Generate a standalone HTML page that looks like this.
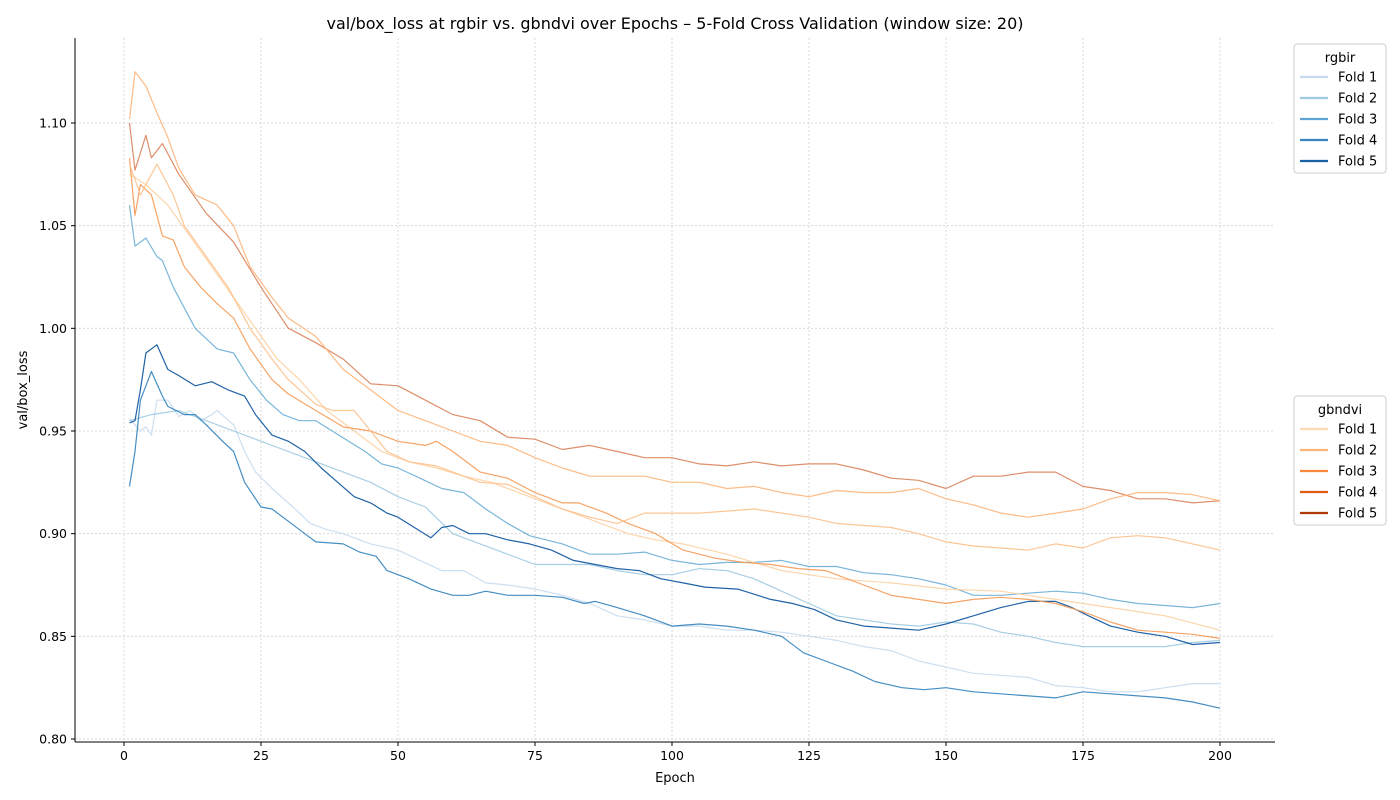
<!DOCTYPE html>
<html><head><meta charset="utf-8"><style>
html,body{margin:0;padding:0;background:#fff;}
svg{display:block;font-family:"DejaVu Sans","Liberation Sans",sans-serif;}
</style></head><body>
<svg id="chart" width="1400" height="800" viewBox="0 0 1400 800" xmlns="http://www.w3.org/2000/svg">
<rect width="1400" height="800" fill="#fff"/>
<text x="675" y="29" text-anchor="middle" font-size="16" fill="#000">val/box_loss at rgbir vs. gbndvi over Epochs – 5-Fold Cross Validation (window size: 20)</text>
<g id="grid"></g><g id="series"></g><g id="axes"></g><g id="legends"></g>
<text x="675" y="782" text-anchor="middle" font-size="13">Epoch</text>
<text transform="translate(27,390) rotate(-90)" text-anchor="middle" font-size="13">val/box_loss</text>
</svg>
<script>
const xTicks=[0,25,50,75,100,125,150,175,200];
const yTicks=[0.80,0.85,0.90,0.95,1.00,1.05,1.10];
const yTickLabels=["0.80","0.85","0.90","0.95","1.00","1.05","1.10"];
const seriesNames=["rgbir Fold 1","rgbir Fold 2","rgbir Fold 3","rgbir Fold 4","rgbir Fold 5","gbndvi Fold 1","gbndvi Fold 2","gbndvi Fold 3","gbndvi Fold 4","gbndvi Fold 5"];
const rgbirF1x=[1,3,4,5,6,8,10,12,14,16,17,20,22,24,27,30,32,34,37,40,45,50,54,58,62,66,70,75,80,85,90,95,100,105,110,115,120,125,130,135,140,145,150,155,160,165,170,175,180,185,190,195,200];
const rgbirF1y=[0.956,0.950,0.952,0.948,0.965,0.965,0.957,0.960,0.955,0.958,0.960,0.953,0.940,0.930,0.922,0.915,0.910,0.905,0.902,0.900,0.895,0.892,0.887,0.882,0.882,0.876,0.875,0.873,0.870,0.866,0.860,0.858,0.855,0.855,0.853,0.853,0.852,0.850,0.848,0.845,0.843,0.838,0.835,0.832,0.831,0.830,0.826,0.825,0.823,0.823,0.825,0.827,0.827];
const rgbirF2x=[1,5,10,15,20,25,30,35,40,45,50,55,60,65,70,75,80,85,90,95,100,105,110,115,120,125,130,135,140,145,150,155,160,165,170,175,180,185,190,195,200];
const rgbirF2y=[0.955,0.958,0.960,0.955,0.950,0.945,0.940,0.935,0.930,0.925,0.918,0.913,0.900,0.895,0.890,0.885,0.885,0.885,0.882,0.880,0.880,0.883,0.882,0.878,0.872,0.866,0.860,0.858,0.856,0.855,0.857,0.856,0.852,0.850,0.847,0.845,0.845,0.845,0.845,0.847,0.848];
const rgbirF3x=[1,2,4,6,7,9,11,13,17,20,23,26,29,32,35,38,41,44,47,50,54,58,62,66,70,74,80,85,90,95,100,105,110,115,120,125,130,135,140,145,150,155,160,165,170,175,180,185,190,195,200];
const rgbirF3y=[1.060,1.040,1.044,1.035,1.033,1.020,1.010,1.000,0.990,0.988,0.975,0.965,0.958,0.955,0.955,0.950,0.945,0.940,0.934,0.932,0.927,0.922,0.920,0.912,0.905,0.899,0.895,0.890,0.890,0.891,0.887,0.885,0.886,0.886,0.887,0.884,0.884,0.881,0.880,0.878,0.875,0.870,0.870,0.871,0.872,0.871,0.868,0.866,0.865,0.864,0.866];
const rgbirF4x=[1,2,3,5,7,8,11,13,15,18,20,22,25,27,30,33,35,40,43,46,48,52,56,60,63,66,70,75,80,84,86,90,95,100,105,110,115,120,124,128,133,137,142,146,150,155,160,165,170,175,180,185,190,195,200];
const rgbirF4y=[0.923,0.940,0.965,0.979,0.967,0.962,0.958,0.958,0.953,0.945,0.940,0.925,0.913,0.912,0.906,0.900,0.896,0.895,0.891,0.889,0.882,0.878,0.873,0.870,0.870,0.872,0.870,0.870,0.869,0.866,0.867,0.864,0.860,0.855,0.856,0.855,0.853,0.850,0.842,0.838,0.833,0.828,0.825,0.824,0.825,0.823,0.822,0.821,0.820,0.823,0.822,0.821,0.820,0.818,0.815];
const rgbirF5x=[1,2,3,4,6,8,10,13,16,19,22,24,27,30,33,36,39,42,45,48,50,53,56,58,60,63,66,70,74,78,82,86,90,94,98,102,106,112,118,122,126,130,135,140,145,150,155,160,165,170,173,176,180,185,190,195,200];
const rgbirF5y=[0.954,0.955,0.970,0.988,0.992,0.980,0.977,0.972,0.974,0.970,0.967,0.958,0.948,0.945,0.940,0.932,0.925,0.918,0.915,0.910,0.908,0.903,0.898,0.903,0.904,0.900,0.900,0.897,0.895,0.892,0.887,0.885,0.883,0.882,0.878,0.876,0.874,0.873,0.868,0.866,0.863,0.858,0.855,0.854,0.853,0.856,0.860,0.864,0.867,0.867,0.864,0.860,0.855,0.852,0.850,0.846,0.847];
const gbF1x=[1,4,8,12,16,20,24,28,32,37,42,47,52,57,62,67,72,77,82,87,92,97,102,110,115,120,125,130,140,150,160,170,180,190,200];
const gbF1y=[1.075,1.070,1.060,1.045,1.030,1.015,1.000,0.985,0.975,0.960,0.950,0.940,0.935,0.932,0.928,0.925,0.920,0.915,0.910,0.905,0.900,0.897,0.895,0.890,0.886,0.882,0.880,0.878,0.876,0.873,0.872,0.868,0.864,0.860,0.853];
const gbF2x=[1,2,4,6,8,10,13,17,20,23,27,30,35,40,45,50,55,60,65,70,75,80,85,90,95,100,105,110,115,120,125,130,135,140,145,150,155,160,165,170,175,180,185,190,195,200];
const gbF2y=[1.102,1.125,1.118,1.105,1.093,1.078,1.065,1.060,1.050,1.030,1.015,1.005,0.996,0.980,0.970,0.960,0.955,0.950,0.945,0.943,0.937,0.932,0.928,0.928,0.928,0.925,0.925,0.922,0.923,0.920,0.918,0.921,0.920,0.920,0.922,0.917,0.914,0.910,0.908,0.910,0.912,0.917,0.920,0.920,0.919,0.916];
const gbF3x=[1,2,3,5,7,9,11,14,17,20,23,27,30,35,40,45,50,55,57,60,65,70,75,80,83,88,92,97,102,108,113,118,123,128,135,140,145,150,155,160,165,170,175,180,185,190,195,200];
const gbF3y=[1.083,1.055,1.070,1.065,1.045,1.043,1.030,1.020,1.012,1.005,0.990,0.975,0.968,0.960,0.952,0.950,0.945,0.943,0.945,0.940,0.930,0.927,0.920,0.915,0.915,0.910,0.905,0.900,0.892,0.888,0.886,0.885,0.883,0.882,0.875,0.870,0.868,0.866,0.868,0.869,0.868,0.866,0.862,0.857,0.853,0.852,0.851,0.849];
const gbF4x=[1,2,4,5,7,10,15,20,25,30,35,40,45,50,55,60,65,70,75,80,85,90,95,100,105,110,115,120,125,130,135,140,145,150,155,160,165,170,175,180,185,190,195,200];
const gbF4y=[1.100,1.077,1.094,1.083,1.090,1.075,1.056,1.042,1.020,1.000,0.993,0.985,0.973,0.972,0.965,0.958,0.955,0.947,0.946,0.941,0.943,0.940,0.937,0.937,0.934,0.933,0.935,0.933,0.934,0.934,0.931,0.927,0.926,0.922,0.928,0.928,0.930,0.930,0.923,0.921,0.917,0.917,0.915,0.916];
const gbF5x=[1,3,6,9,11,15,19,23,27,30,35,38,42,45,48,52,57,60,65,70,75,80,85,90,95,100,105,110,115,120,125,130,135,140,145,150,155,160,165,170,175,180,185,190,195,200];
const gbF5y=[1.080,1.065,1.080,1.065,1.050,1.035,1.020,1.000,0.985,0.975,0.963,0.960,0.960,0.950,0.940,0.935,0.933,0.930,0.925,0.924,0.918,0.912,0.908,0.905,0.910,0.910,0.910,0.911,0.912,0.910,0.908,0.905,0.904,0.903,0.900,0.896,0.894,0.893,0.892,0.895,0.893,0.898,0.899,0.898,0.895,0.892];

const NS="http://www.w3.org/2000/svg";
const L=75,R=1275,T=38,B=742;
const xS=e=>124+(e-0)*(1220-124)/200;
const yS=v=>123+(1.10-v)*(739-123)/0.30;
function mk(tag,attrs,parent){const el=document.createElementNS(NS,tag);for(const k in attrs)el.setAttribute(k,attrs[k]);parent.appendChild(el);return el;}
const grid=document.getElementById('grid'),axes=document.getElementById('axes'),ser=document.getElementById('series'),leg=document.getElementById('legends');
xTicks.forEach(t=>{const x=xS(t);
 const g=mk('line',{x1:x,x2:x,y1:T,y2:B,stroke:'#d0d0d0','stroke-dasharray':'2,2','stroke-width':0.8},grid);
 
 
 mk('line',{x1:x,x2:x,y1:B,y2:B+4,stroke:'#000'},axes);
 const tx=mk('text',{x:x,y:B+18,'text-anchor':'middle','font-size':12.5},axes);tx.textContent=t;
 
 
});
yTicks.forEach((t,i)=>{const y=yS(t);
 const g=mk('line',{x1:L,x2:R,y1:y,y2:y,stroke:'#d0d0d0','stroke-dasharray':'2,2','stroke-width':0.8},grid);
 
 
 mk('line',{x1:L-4,x2:L,y1:y,y2:y,stroke:'#000'},axes);
 const tx=mk('text',{x:L-8,y:y+4.5,'text-anchor':'end','font-size':12.5},axes);tx.textContent=yTickLabels[i];
 
 
});
const la=mk('line',{x1:L,x2:L,y1:T,y2:B,stroke:'#000','stroke-width':1},axes);


const lb=mk('line',{x1:L,x2:R,y1:B,y2:B,stroke:'#000','stroke-width':1},axes);



const blues=['#c6dbef','#9ecae1','#6baed6','#3182bd','#08519c'];
const seriesX=[rgbirF1x,rgbirF2x,rgbirF3x,rgbirF4x,rgbirF5x,gbF1x,gbF4x,gbF3x,gbF2x,gbF5x];
const seriesY=[rgbirF1y,rgbirF2y,rgbirF3y,rgbirF4y,rgbirF5y,gbF1y,gbF4y,gbF3y,gbF2y,gbF5y];
const lineColors=[blues[0],blues[1],blues[2],blues[3],blues[4],'#fdd0a2','#d9825a','#f59a55','#fdb479','#fdc08a'];
seriesX.forEach((xs,i)=>{
 const d=xs.map((e,j)=>(j?'L':'M')+xS(e).toFixed(1)+','+yS(seriesY[i][j]).toFixed(1)).join(' ');
 const p=mk('path',{d:d,fill:'none',stroke:lineColors[i],'stroke-width':1.2,'stroke-linejoin':'round','stroke-opacity':0.9},ser);
 
 
});

function legend(title,y0,cols,name){
 const g=mk('g',{},leg);
 
 
 mk('rect',{x:1294,y:y0,width:92,height:129,rx:3,fill:'#fff',stroke:'#ccc'},g);
 const t=mk('text',{x:1340,y:y0+18,'text-anchor':'middle','font-size':13},g);t.textContent=title;
 cols.forEach((c,i)=>{const y=y0+33+i*21;
  mk('line',{x1:1300,x2:1328,y1:y,y2:y,stroke:c,'stroke-width':2.2},g);
  const tx=mk('text',{x:1338,y:y+4.5,'font-size':13},g);tx.textContent='Fold '+(i+1);
  
  
 });
}
legend('rgbir',44,['#c6dbef','#9ecae1','#5ea5d5','#3a86c2','#1a62a8'],'rgbir-legend');
legend('gbndvi',396,['#fdd9b5','#fdb57a','#f98a3c','#e25d14','#ae3b06'],'gbndvi-legend');
</script>
</body></html>
